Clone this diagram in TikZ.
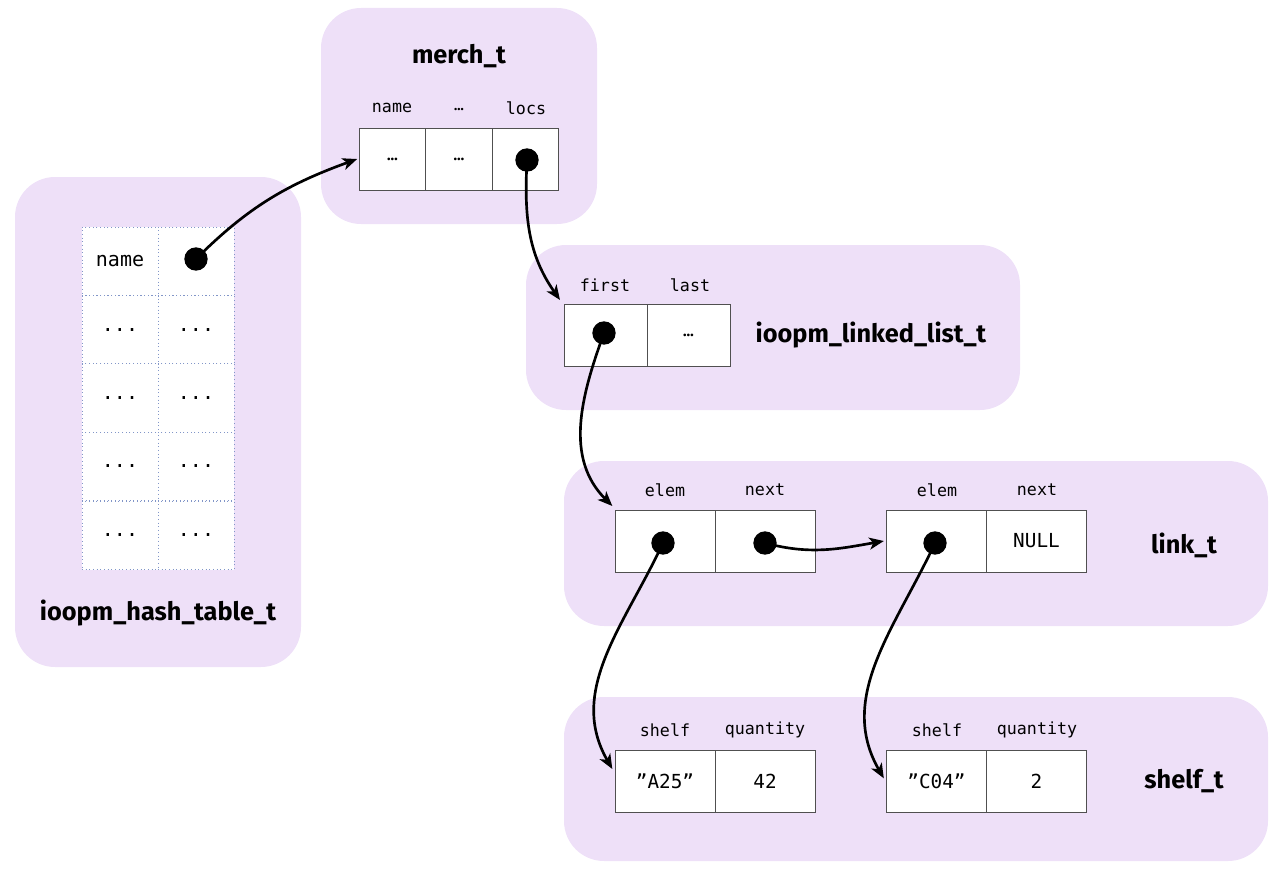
\documentclass[tikz,border=0pt]{standalone}
\usepackage{fontspec}
\setmainfont{Fira Sans}
\setmonofont{DejaVu Sans Mono}
\usetikzlibrary{arrows.meta}
\definecolor{bgc}{RGB}{238,224,248}
\definecolor{cellline}{RGB}{80,80,80}
\definecolor{dotblue}{RGB}{130,150,200}
\begin{document}
\begin{tikzpicture}[x=0.75pt,y=-0.75pt,
  bgbox/.style={fill=bgc,draw=none,rounded corners=30pt},
  title/.style={font=\fontsize{19}{21}\selectfont\bfseries},
  lbl/.style={font=\fontsize{12.5}{14}\selectfont\ttfamily},
  cellm/.style={draw=cellline,line width=0.75pt,fill=white,inner sep=0pt,outer sep=0pt,minimum width=50pt,minimum height=46.5pt,font=\fontsize{11}{13}\selectfont\bfseries},
  celll/.style={cellm,minimum width=62.25pt},
  cellk/.style={cellm,minimum width=75pt,font=\fontsize{14.5}{16}\selectfont\ttfamily},
  cellh/.style={draw=dotblue,dotted,line width=0.75pt,fill=white,inner sep=0pt,outer sep=0pt,minimum width=57pt,minimum height=51.5pt,font=\fontsize{15}{17}\selectfont\ttfamily},
  dotc/.style={circle,fill=black,inner sep=0pt,minimum size=17.5pt},
  ptr/.style={line width=2pt,-{Stealth[length=11pt,width=9pt,inset=3pt]}}
]
\useasboundingbox (0,0) rectangle (1280,874);
% backgrounds
\fill[bgbox] (15,177) rectangle (301,667);
\fill[bgbox] (321,8) rectangle (597,224);
\fill[bgbox] (526,245) rectangle (1020,410);
\fill[bgbox] (564,461) rectangle (1268,626);
\fill[bgbox] (564,697) rectangle (1268,861);

% hash table
\node[cellh] (h11) at (120,261.5) {name};
\node[cellh] (h12) at (196,261.5) {};
\node[cellh] (h21) at (120,330) {...};
\node[cellh] (h22) at (196,330) {...};
\node[cellh] (h31) at (120,398) {...};
\node[cellh] (h32) at (196,398) {...};
\node[cellh] (h41) at (120,466.5) {...};
\node[cellh] (h42) at (196,466.5) {...};
\node[cellh] (h51) at (120,535.5) {...};
\node[cellh] (h52) at (196,535.5) {...};
\node[title] (th) at (158,613) {ioopm\_hash\_table\_t};
\node[dotc] (dh) at (196,259) {};

% merch_t
\node[title] (tm) at (459,56) {merch\_t};
\node[lbl] (lm1) at (392,108) {name};
\node[font=\fontsize{10}{12}\selectfont\bfseries] (lm2) at (459,110) {…};
\node[lbl] (lm3) at (526,108) {locs};
\node[cellm] (m1) at (392.5,159) {…};
\node[cellm] (m2) at (459,159) {…};
\node[cellm] (m3) at (525.5,159) {};
\node[dotc] (dm) at (527,160) {};

% linked list
\node[lbl] (ll1l) at (605,285) {first};
\node[lbl] (ll2l) at (690,285) {last};
\node[celll] (ll1) at (605.5,335) {};
\node[celll] (ll2) at (688.5,335) {…};
\node[dotc] (dl) at (604,333) {};
\node[title,anchor=west] (tl) at (751,335) {ioopm\_linked\_list\_t};

% link_t
\node[lbl] (k1l) at (665,490) {elem};
\node[lbl] (k2l) at (765,490) {next};
\node[lbl] (k3l) at (937,490) {elem};
\node[lbl] (k4l) at (1037,490) {next};
\node[cellk] (k1) at (665,541) {};
\node[cellk] (k2) at (765,541) {};
\node[cellk] (k3) at (936.5,541) {};
\node[cellk] (k4) at (1036.5,541) {NULL};
\node[dotc] (dk1) at (663,543) {};
\node[dotc] (dk2) at (765,543) {};
\node[dotc] (dk3) at (935,543) {};
\node[title] (tk) at (1184,545) {link\_t};

% shelf_t
\node[lbl] (s1l) at (665,730) {shelf};
\node[lbl] (s2l) at (765,730) {quantity};
\node[lbl] (s3l) at (937,730) {shelf};
\node[lbl] (s4l) at (1037,730) {quantity};
\node[cellk] (s1) at (665,781) {”A25”};
\node[cellk] (s2) at (765,781) {42};
\node[cellk] (s3) at (936.5,781) {”C04”};
\node[cellk] (s4) at (1036.5,781) {2};
\node[title] (ts) at (1184,781) {shelf\_t};

% pointers
\draw[ptr] (dh.center) to[out=45,in=200] ([xshift=-1.5pt]m1.west);
\draw[ptr] (dm.center) to[out=-93,in=125] ([xshift=-3pt,yshift=3pt]ll1.north west);
\draw[ptr] (dl.center) to[out=-110,in=135] ([xshift=-2pt,yshift=3pt]k1.north west);
\draw[ptr] (dk2.center) to[out=-15,in=190] ([xshift=-2pt]k3.west);
\draw[ptr] (dk1.center) to[out=-115,in=120] ([xshift=-2pt,yshift=9pt]s1.west);
\draw[ptr] (dk3.center) to[out=-115,in=120] ([xshift=-2pt,yshift=2pt]s3.west);
\end{tikzpicture}
\end{document}
